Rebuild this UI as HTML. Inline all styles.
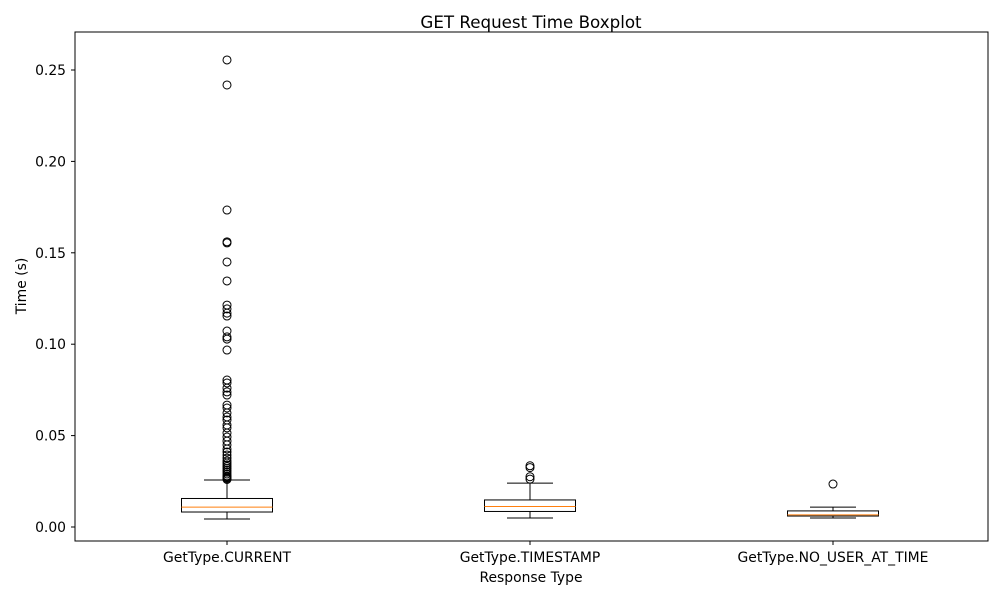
<!DOCTYPE html>
<html><head><meta charset="utf-8"><style>
body{margin:0;background:#fff;font-family:"Liberation Sans","DejaVu Sans",sans-serif}
svg text{font-family:"DejaVu Sans","Liberation Sans",sans-serif;fill:#000}
</style></head><body>
<svg id="chart" width="1000" height="600">
<rect width="1000" height="600" fill="#fff"/>
<text x="531" y="28" font-size="16.7" text-anchor="middle">GET Request Time Boxplot</text>
<text x="531" y="582" font-size="13.9" text-anchor="middle">Response Type</text>
<text transform="translate(26,286) rotate(-90)" font-size="13.9" text-anchor="middle">Time (s)</text>
<g id="marks"></g>
<rect x="75" y="32" width="913" height="509" fill="none" stroke="#000" stroke-width="1"/>
</svg>
<script>
const categories=["GetType.CURRENT","GetType.TIMESTAMP","GetType.NO_USER_AT_TIME"];
const q1=[0.0082,0.0085,0.0060];
const medians=[0.0109,0.0112,0.0066];
const q3=[0.0156,0.0148,0.0088];
const whiskLow=[0.0044,0.0049,0.0049];
const whiskHigh=[0.0257,0.0240,0.0109];
const outliers=[
[0.2555,0.2418,0.1734,0.1560,0.1554,0.1450,0.1346,0.1214,0.1193,0.1170,0.1154,0.1072,0.1040,0.1028,0.0968,0.0804,0.0788,0.0760,0.0739,0.0722,0.0667,0.0651,0.0624,0.0602,0.0585,0.0558,0.0542,0.0514,0.0492,0.0470,0.0449,0.0427,0.0410,0.0394,0.0377,0.0361,0.0350,0.0340,0.0330,0.0320,0.0310,0.0300,0.0290,0.0280,0.0275,0.0270,0.0265,0.0260],
[0.0335,0.0325,0.0275,0.0262],
[0.0235]];
const yTicks=[0,0.05,0.10,0.15,0.20,0.25];
const yTickLabels=["0.00","0.05","0.10","0.15","0.20","0.25"];
const NS="http://www.w3.org/2000/svg";
const y=v=>527-v*1828;
const x=i=>227+i*303;
const g=document.getElementById('marks');
function mk(t,a){const e=document.createElementNS(NS,t);for(const k in a)e.setAttribute(k,a[k]);g.appendChild(e);return e;}
yTicks.forEach((v,i)=>{
 const tk=mk('line',{x1:71,x2:75,y1:y(v),y2:y(v),stroke:'#000'});
 
 
 const t=mk('text',{x:66,y:y(v)+5,'font-size':13.9,'text-anchor':'end'});
 t.textContent=yTickLabels[i];
 
 
});
categories.forEach((c,i)=>{
 const cx=x(i);
 const tk=mk('line',{x1:cx,x2:cx,y1:541,y2:545,stroke:'#000'});
 
 
 const t=mk('text',{x:cx,y:562,'font-size':13.9,'text-anchor':'middle'});
 t.textContent=c;
 
 
 const w1=mk('line',{x1:cx,x2:cx,y1:y(q3[i]),y2:y(whiskHigh[i]),stroke:'#000'});
 
 
 const w2=mk('line',{x1:cx,x2:cx,y1:y(q1[i]),y2:y(whiskLow[i]),stroke:'#000'});
 
 
 [whiskHigh[i],whiskLow[i]].forEach(v=>{
  const cap=mk('line',{x1:cx-23,x2:cx+23,y1:y(v),y2:y(v),stroke:'#000'});
  
  
 });
 const b=mk('rect',{x:cx-45.5,y:y(q3[i]),width:91,height:y(q1[i])-y(q3[i]),fill:'none',stroke:'#000'});
 
 
 const m=mk('line',{x1:cx-45.5,x2:cx+45.5,y1:y(medians[i]),y2:y(medians[i]),stroke:'#ff7f0e'});
 
 
 outliers[i].forEach(v=>{
  const o=mk('circle',{cx:cx,cy:y(v),r:4,fill:'none',stroke:'#000'});
  
  
 });
});
</script>
</body></html>
